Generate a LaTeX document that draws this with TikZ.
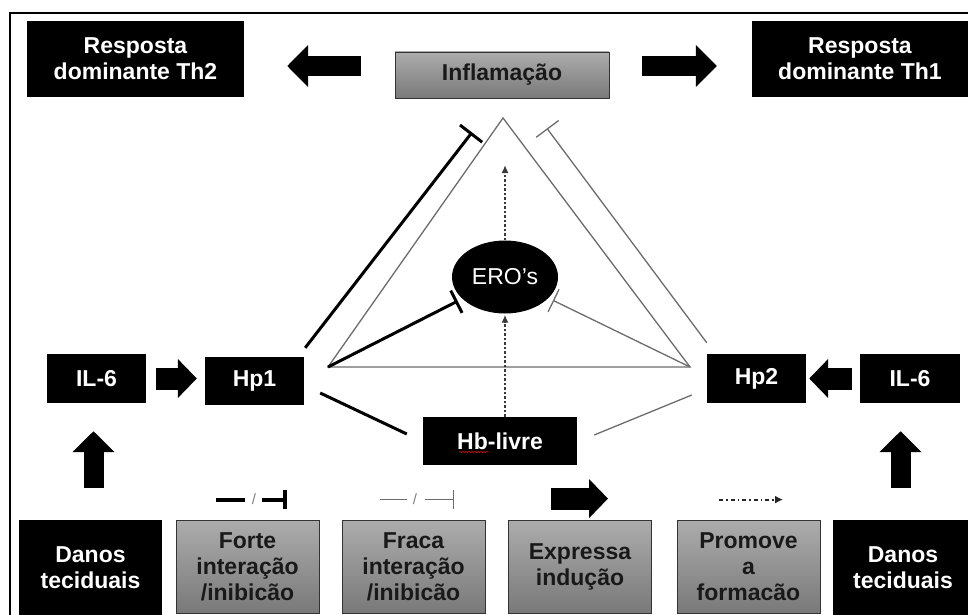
\documentclass[tikz,border=0pt]{standalone}
\usepackage{fontspec}
\setmainfont{Liberation Sans}
\usetikzlibrary{arrows.meta,positioning,shapes,decorations.pathmorphing}

\begin{document}
\begin{tikzpicture}[
    x=1pt, y=-1pt,
    every node/.style={
        inner sep=0pt,
        align=center,
        font=\fontsize{23}{26}\selectfont\bfseries
    },
    blackbox/.style={fill=black, text=white},
    graybox/.style={draw=gray!40!black, line width=0.8pt, text=black!90,
        top color=gray!65, bottom color=gray!95!black,
        minimum width=143pt, minimum height=93pt},
    fatarrow/.style={line width=20pt, -{Triangle[length=21pt,width=41pt]}},
    smallarrow/.style={line width=22pt, -{Triangle[length=19pt,width=38pt]}},
    strong/.style={line width=3pt},
    weak/.style={line width=1.3pt, gray!85!black},
    inhib/.style={-{Bar[width=28pt]}},
    forms/.style={dash pattern=on 2.5pt off 2pt, line width=2.2pt, gray!45!black,
        -{Latex[length=8pt,width=7pt]}},
    slash/.style={font=\fontsize{15}{15}\selectfont, text=gray}
]
\useasboundingbox (0,0) rectangle (968,615);
\draw[line width=1.5pt] (10,13) rectangle (985,630);

% top row
\node[blackbox, minimum width=217pt, minimum height=76pt] (th2) at (135.5,59) {Resposta\\dominante Th2};
\node[graybox, minimum width=214pt, minimum height=46pt] (infl) at (502,75) {Inflamação};
\node[blackbox, minimum width=216pt, minimum height=76pt] (th1) at (860,59) {Resposta\\dominante Th1};
\draw[fatarrow, shorten <=34pt, shorten >=43pt] ([yshift=9pt]infl.west) -- ([yshift=-7pt]th2.east);
\draw[fatarrow, shorten <=33pt, shorten >=35pt] ([yshift=9pt]infl.east) -- ([yshift=-7pt]th1.west);

% middle row
\node[blackbox, minimum width=99pt, minimum height=49pt] (ilone) at (96.5,378.5) {IL-6};
\node[blackbox, minimum width=99pt, minimum height=48pt] (hpone) at (254.5,381) {Hp1};
\node[blackbox, minimum width=99pt, minimum height=49pt] (hptwo) at (756.5,378.5) {Hp2};
\node[blackbox, minimum width=100pt, minimum height=49pt] (iltwo) at (910,378.5) {IL-6};
\draw[smallarrow, shorten <=10pt, shorten >=8pt] (ilone.east) -- (ilone.east -| hpone.west);
\draw[smallarrow, shorten <=8pt, shorten >=3pt] (iltwo.west) -- (hptwo.east);

\node[blackbox, ellipse, minimum width=106pt, minimum height=73pt,
      font=\fontsize{23}{26}\selectfont] (ero) at (505,277) {ERO’s};
\node[blackbox, minimum width=154pt, minimum height=48pt] (hb) at (500,441) {Hb-livre};
\draw[red!80!black, line width=0.6pt, decorate,
      decoration={snake, amplitude=0.8pt, segment length=3pt}]
    ([shift={(-41,11)}]hb.center) -- ([shift={(-12,11)}]hb.center);

% triangle
\coordinate (tL) at (328,367);
\coordinate (tT) at (503,118);
\coordinate (tR) at (690,367);
\coordinate (rostop) at (505,165);
\draw[weak] (tL) -- (tT) -- (tR) -- cycle;

% interactions
\draw[strong, inhib] ([shift={(1,-9)}]hpone.north east) -- ([shift={(-30,34)}]infl.south);
\draw[weak, inhib] ([shift={(0,-11)}]hptwo.north west) -- ([shift={(45,30)}]infl.south);
\draw[strong, -{Bar[width=25pt]}, shorten >=5pt] (tL) -- (ero);
\draw[weak, -{Bar[width=25pt]}, shorten >=5pt] (tR) -- (ero);
\draw[strong] ([shift={(16,12)}]hpone.east) -- ([shift={(-16,-7)}]hb.west);
\draw[weak] ([shift={(17,-6)}]hb.east) -- ([shift={(-15,16.5)}]hptwo.west);
\draw[forms, shorten >=1pt] (ero.south |- hb.north) -- (ero.south);
\draw[forms] (ero.north) -- (rostop);

% bottom row
\node[blackbox, minimum width=143pt, minimum height=96pt] (danosone) at (90.5,568) {Danos\\teciduais};
\node[graybox] (forte) at (247.5,566.5) {Forte\\interação\\/inibicão};
\node[graybox] (fraca) at (413.5,566.5) {Fraca\\interação\\/inibicão};
\node[graybox] (expr) at (580,566.5) {Expressa\\indução};
\node[graybox] (prom) at (748.5,566.5) {Promove\\a\\formacão};
\node[blackbox, minimum width=140pt, minimum height=96pt] (danostwo) at (903,568) {Danos\\teciduais};
\draw[fatarrow, shorten <=32pt, shorten >=28pt] ([xshift=3pt]danosone.north) -- ([xshift=-3pt]ilone.south);
\draw[fatarrow, shorten <=32pt, shorten >=28pt] ([xshift=-2.5pt]danostwo.north) -- ([xshift=-9.5pt]iltwo.south);

% legend symbols
\draw[line width=4pt] ([shift={(-31.5,-20)}]forte.north) -- ++(29,0);
\node[slash] (slashone) at ([shift={(6.5,-20)}]forte.north) {/};
\draw[line width=4pt, -{Bar[width=19pt]}] ([shift={(14.5,-20)}]forte.north) -- ++(25,0);
\draw[weak] ([shift={(-33.5,-20)}]fraca.north) -- ++(27,0);
\node[slash] (slashtwo) at ([shift={(1.5,-20)}]fraca.north) {/};
\draw[weak, -{Bar[width=19pt]}] ([shift={(11.5,-20)}]fraca.north) -- ++(29,0);
\draw[smallarrow] ([shift={(-29,-21)}]expr.north) -- ++(57,0);
\draw[line width=2pt, gray!30!black, dash pattern=on 4pt off 3pt on 1.5pt off 3pt,
      -{Latex[length=8pt,width=8pt]}] ([shift={(-29.5,-20)}]prom.north) -- ++(64,0);
\end{tikzpicture}
\end{document}
